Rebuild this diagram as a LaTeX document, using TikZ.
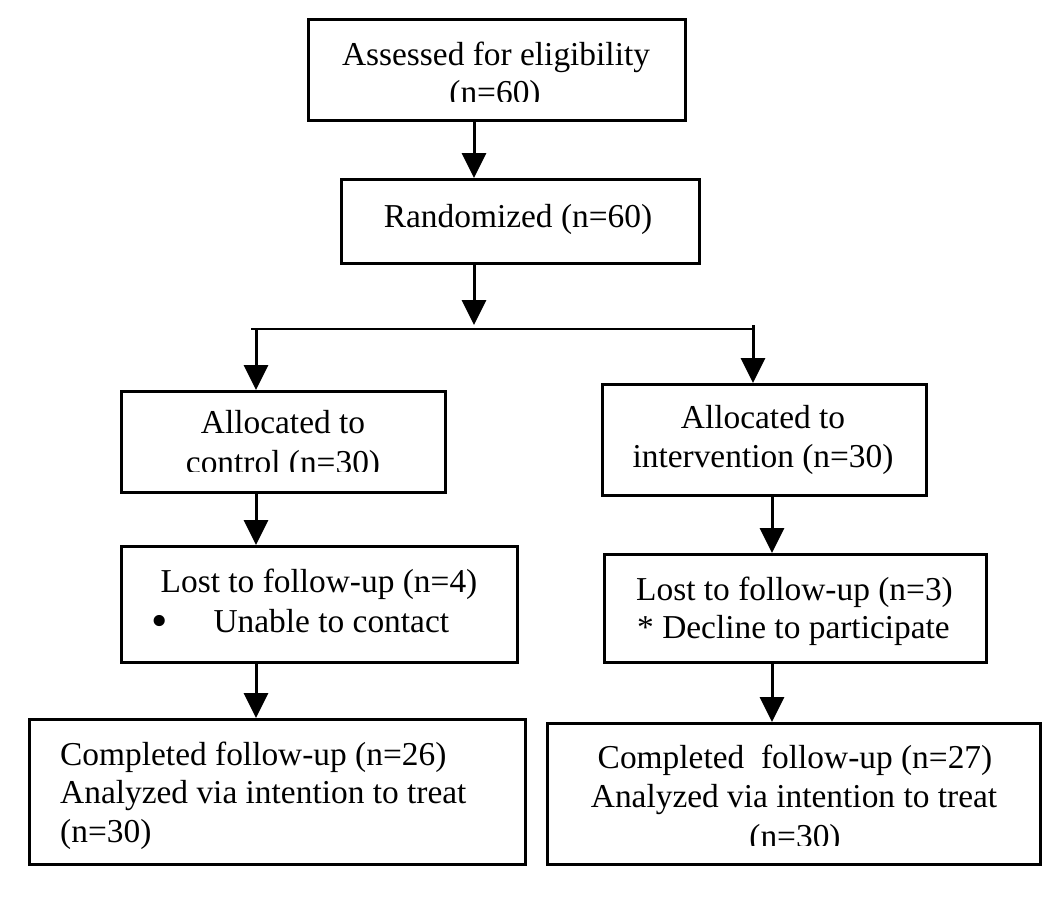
\documentclass[tikz,border=0pt]{standalone}
\usepackage{fontspec}
\setmainfont{Liberation Serif}
\usetikzlibrary{arrows.meta}
\tikzset{
  box/.style={draw=black, line width=3pt, fill=none, inner sep=0pt, anchor=north west},
  conn/.style={draw=black, line width=3pt},
  arr/.style={conn, -{Triangle[length=25pt,width=24pt]}},
  txt/.style={inner sep=0pt, font=\fontsize{33.4}{38.5}\selectfont},
}
\begin{document}
\begin{tikzpicture}[x=1pt,y=-1pt]
\useasboundingbox (0,0) rectangle (1048,897);
\fill[white] (0,0) rectangle (1048,897);

% boxes
\node[box, minimum width=377pt, minimum height=101pt] (b1) at (307,18) {};
\node[box, minimum width=358pt, minimum height=84pt] (b2) at (340,178) {};
\node[box, minimum width=324pt, minimum height=101pt] (ctrl) at (120,390) {};
\node[box, minimum width=324pt, minimum height=111pt] (intv) at (601,383) {};
\node[box, minimum width=396pt, minimum height=116pt] (lostL) at (120,545) {};
\node[box, minimum width=382pt, minimum height=108pt] (lostR) at (603,553) {};
\node[box, minimum width=496pt, minimum height=145pt] (compL) at (28,718) {};
\node[box, minimum width=493pt, minimum height=141pt] (compR) at (546,722) {};

% texts
\begin{scope}
  \clip (307,18) rectangle (684,101);
  \node[txt, anchor=base] (t1a) at (496,65) {Assessed for eligibility};
  \node[txt, anchor=base] (t1b) at (495,103) {(n=60)};
\end{scope}
\node[txt, anchor=base] (t2) at (518,227) {Randomized (n=60)};
\begin{scope}
  \clip (120,390) rectangle (444,471);
  \node[txt, anchor=base] (t3a) at (283,433) {Allocated to};
  \node[txt, anchor=base] (t3b) at (283,473) {control (n=30)};
\end{scope}
\node[txt, anchor=base] (t4a) at (763,428) {Allocated to};
\node[txt, anchor=base] (t4b) at (763,467) {intervention (n=30)};
\node[txt, anchor=base] (t5a) at (319,592) {Lost to follow-up (n=4)};
\node[txt, anchor=base west] (t5b) at (151,632) {\raisebox{-4pt}{\scalebox{1.4}{•}}\hspace{46pt}Unable to contact};
\node[txt, anchor=base west] (t6a) at (636,600) {Lost to follow-up (n=3)};
\node[txt, anchor=base west] (t6b) at (637,638) {* Decline to participate};
\node[txt, anchor=base west] (t7a) at (60,765) {Completed follow-up (n=26)};
\node[txt, anchor=base west] (t7b) at (60,803) {Analyzed via intention to treat};
\node[txt, anchor=base west] (t7c) at (60,842) {(n=30)};
\begin{scope}
  \clip (546,722) rectangle (1039,845);
  \node[txt, anchor=base] (t8a) at (795,768) {Completed\ \ follow-up (n=27)};
  \node[txt, anchor=base] (t8b) at (794,807) {Analyzed via intention to treat};
  \node[txt, anchor=base] (t8c) at (795,847) {(n=30)};
\end{scope}

% connectors
\coordinate (ax) at (474,0);
\coordinate (sp) at (474,325);
\coordinate (hl) at (251,329);
\coordinate (hr) at (754.5,329);
\coordinate (L) at (256,329);
\coordinate (R) at (753,325);
\coordinate (lx) at (256,0);
\coordinate (rx) at (772,0);

\draw[arr] (b1.south -| ax) -- (b2.north -| ax);
\draw[arr] (b2.south -| ax) -- (sp);
\draw[conn, line width=2.6pt] (hl) -- (hr);
\draw[arr] (L) -- (L |- ctrl.north);
\draw[arr] (R) -- (R |- intv.north);
\draw[arr] (ctrl.south -| lx) -- (lostL.north -| lx);
\draw[arr] (lostL.south -| lx) -- (compL.north -| lx);
\draw[arr] (intv.south -| rx) -- (lostR.north -| rx);
\draw[arr] (lostR.south -| rx) -- (compR.north -| rx);
\end{tikzpicture}
\end{document}
